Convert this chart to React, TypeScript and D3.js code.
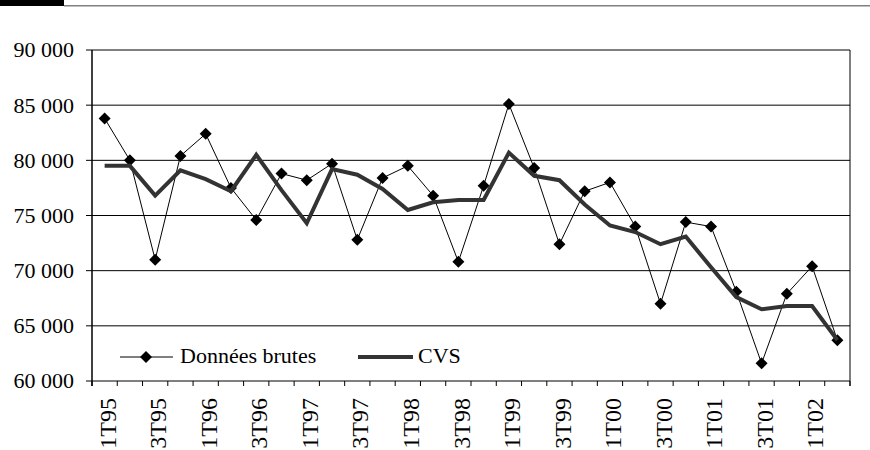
import { useMemo } from "react";
import * as d3 from "d3";

// Quarterly series, 1T95 .. 2T02
const QUARTERS = [
  "1T95", "2T95", "3T95", "4T95",
  "1T96", "2T96", "3T96", "4T96",
  "1T97", "2T97", "3T97", "4T97",
  "1T98", "2T98", "3T98", "4T98",
  "1T99", "2T99", "3T99", "4T99",
  "1T00", "2T00", "3T00", "4T00",
  "1T01", "2T01", "3T01", "4T01",
  "1T02", "2T02",
];

const RAW = [
  83800, 80000, 71000, 80400, 82400, 77500, 74600, 78800, 78200, 79700,
  72800, 78400, 79500, 76800, 70800, 77700, 85100, 79300, 72400, 77200,
  78000, 74000, 67000, 74400, 74000, 68100, 61600, 67900, 70400, 63700,
];

const CVS = [
  79500, 79500, 76800, 79100, 78300, 77200, 80500, 77300, 74300, 79200,
  78700, 77400, 75500, 76200, 76400, 76400, 80700, 78600, 78200, 76000,
  74100, 73500, 72400, 73100, 70300, 67600, 66500, 66800, 66800, 63700,
];

const Y_TICKS = [60000, 65000, 70000, 75000, 80000, 85000, 90000];

const LEGEND = ["Données brutes", "CVS"];

// ---------------------------------------------------------------------------
// Layout / style
// ---------------------------------------------------------------------------

const W = 870;
const H = 450;
const PLOT = { left: 92, right: 850, top: 50, bottom: 381 };
const FONT = "Liberation Serif, Times New Roman, serif";
const FS = 22;
const CVS_COLOR = "#333333";

const fmt = d3.formatLocale({
  decimal: ",",
  thousands: " ",
  grouping: [3],
  currency: ["", " €"],
}).format(",d");

export default function App() {
  const x = useMemo(
    () =>
      d3.scaleBand<string>().domain(QUARTERS).range([PLOT.left, PLOT.right]).padding(0),
    [],
  );
  const y = useMemo(
    () => d3.scaleLinear().domain([60000, 90000]).range([PLOT.bottom, PLOT.top]),
    [],
  );

  const cx = (i: number) => (x(QUARTERS[i]) ?? 0) + x.bandwidth() / 2;

  const line = d3
    .line<number>()
    .x((_, i) => cx(i))
    .y((d) => y(d));

  const diamond = d3.symbol().type(d3.symbolSquare).size(72)() ?? "";

  // tick positions at band boundaries
  const boundaries = [...QUARTERS.map((q) => x(q) ?? 0), PLOT.right];

  return (
    <div style={{ position: "absolute", left: 0, top: 0 }}>
      <svg width={W} height={H} style={{ display: "block", background: "#fff", fontFamily: FONT }}>
        {/* header decoration */}
        <rect x={0} y={0} width={64} height={6} fill="#000" />
        <line x1={64} x2={W} y1={5.75} y2={5.75} stroke="#808080" strokeWidth={1.5} />

        {/* gridlines */}
        {Y_TICKS.map((t) => (
          <line key={t} x1={PLOT.left - 6} x2={PLOT.right} y1={y(t)} y2={y(t)} stroke="#000" strokeWidth={1} />
        ))}

        {/* y labels */}
        {Y_TICKS.map((t) => (
          <text
            key={`yl${t}`}
            x={74}
            y={y(t)}
            dy="0.34em"
            textAnchor="end"
            fontSize={FS}
            fill="#000"
          >
            {fmt(t)}
          </text>
        ))}

        {/* frame */}
        <line x1={PLOT.left} x2={PLOT.left} y1={PLOT.top} y2={PLOT.bottom + 5} stroke="#000" strokeWidth={1.5} />
        <line x1={PLOT.right} x2={PLOT.right} y1={PLOT.top} y2={PLOT.bottom + 5} stroke="#000" strokeWidth={1} />

        {/* x ticks */}
        {boundaries.map((b, i) => (
          <line key={`xt${i}`} x1={b} x2={b} y1={PLOT.bottom} y2={PLOT.bottom + 5} stroke="#000" strokeWidth={1} />
        ))}

        {/* x labels, every second quarter */}
        {QUARTERS.map((q, i) =>
          i % 2 === 0 ? (
            <text
              key={q}
              transform={`translate(${cx(i) + 3},${PLOT.bottom + 17}) rotate(-90)`}
              dy="0.34em"
              textAnchor="end"
              fontSize={FS + 2}
              fill="#000"
            >
              {q}
            </text>
          ) : null,
        )}

        {/* raw data */}
        <path d={line(RAW) ?? ""} fill="none" stroke="#000" strokeWidth={1} />
        {RAW.map((v, i) => (
          <path key={`d${i}`} d={diamond} transform={`translate(${cx(i)},${y(v)}) rotate(45)`} fill="#000" />
        ))}

        {/* CVS */}
        <path
          d={line(CVS) ?? ""}
          fill="none"
          stroke={CVS_COLOR}
          strokeWidth={4}
          strokeLinejoin="miter"
        />

        {/* legend */}
        <g>
          <line x1={120} x2={173} y1={357} y2={357} stroke="#000" strokeWidth={1} />
          <path d={diamond} transform="translate(146,357) rotate(45)" fill="#000" />
          <text x={180} y={363} fontSize={FS} fill="#000">
            {LEGEND[0]}
          </text>
          <line x1={358} x2={413} y1={357} y2={357} stroke={CVS_COLOR} strokeWidth={4} />
          <text x={418} y={363} fontSize={FS} fill="#000">
            {LEGEND[1]}
          </text>
        </g>
      </svg>
    </div>
  );
}
